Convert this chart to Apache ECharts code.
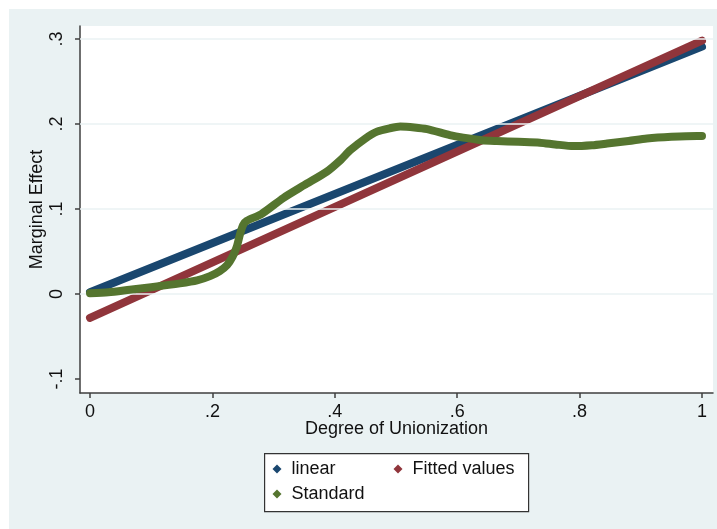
<!DOCTYPE html>
<html>
<head>
<meta charset="utf-8">
<script src="https://cdn.jsdelivr.net/npm/echarts@6/dist/echarts.min.js"></script>
<style>
  html, body { margin: 0; padding: 0; background: #ffffff; }
  #chart { width: 717px; height: 529px; }
</style>
</head>
<body>
<div id="chart"></div>
<script>
// Tick labels
const xTicks = [0, 0.2, 0.4, 0.6, 0.8, 1];
const xTickText = ['0', '.2', '.4', '.6', '.8', '1'];
const yTicks = [-0.1, 0, 0.1, 0.2, 0.3];
const yTickText = ['-.1', '0', '.1', '.2', '.3'];
const yGrid = [0, 0.1, 0.2, 0.3];

// Marginal effect of unionization, linear specification
const linearX = [0, 1];
const linearY = [0.002, 0.291];

// Linear fit of the standard estimate
const fittedX = [0, 1];
const fittedY = [-0.028, 0.298];

// Standard (flexible) estimate
const standardX = [0, 0.03, 0.065, 0.1, 0.147, 0.175, 0.196, 0.212, 0.224, 0.233, 0.24, 0.245,
  0.25, 0.256, 0.28, 0.316, 0.35, 0.387, 0.41, 0.425, 0.45, 0.469, 0.49, 0.507, 0.53, 0.551,
  0.588, 0.61, 0.64, 0.665, 0.7, 0.735, 0.76, 0.79, 0.82, 0.845, 0.88, 0.91, 0.95, 0.992, 1.0];
const standardY = [0.001, 0.002, 0.005, 0.008, 0.0125, 0.016, 0.021, 0.027, 0.034, 0.044, 0.056, 0.07,
  0.081, 0.086, 0.094, 0.113, 0.128, 0.144, 0.158, 0.169, 0.183, 0.191, 0.195, 0.197, 0.196, 0.194,
  0.187, 0.184, 0.181, 0.18, 0.179, 0.178, 0.176, 0.174, 0.175, 0.177, 0.18, 0.183, 0.185, 0.186, 0.186];

const seriesNames = ['linear', 'Fitted values', 'Standard'];
const seriesColors = ['#1a476f', '#90353b', '#55752f'];

const pairs = (xs, ys) => xs.map((x, i) => [x, ys[i]]);

const FONT = 'Liberation Sans, Arial, sans-serif';
const TEXT = '#111111';
const AXIS = '#3f3f3f';
const REGION = '#eaf2f3';

const chart = echarts.init(document.getElementById('chart'), null, { renderer: 'canvas' });

function legendItem(name, left, top) {
  return {
    data: [name],
    left: left,
    top: top,
    orient: 'horizontal',
    icon: 'diamond',
    itemWidth: 9,
    itemHeight: 9,
    padding: 0,
    selectedMode: false,
    textStyle: { fontFamily: FONT, fontSize: 18, color: TEXT, padding: [0, 0, 0, 5] }
  };
}

function lineSeries(idx, xs, ys) {
  return {
    name: seriesNames[idx],
    type: 'line',
    data: pairs(xs, ys),
    showSymbol: false,
    symbol: 'diamond',
    smooth: idx === 2 ? 0.25 : false,
    color: seriesColors[idx],
    lineStyle: { width: 8, color: seriesColors[idx], cap: 'round', join: 'round' },
    itemStyle: { color: seriesColors[idx] },
    z: 3 + idx,
    silent: true,
    animation: false
  };
}

const option = {
  backgroundColor: '#ffffff',
  animation: false,
  graphic: [
    { type: 'rect', left: 9, top: 9, shape: { width: 708, height: 520 }, style: { fill: REGION }, z: -10 },
    { type: 'rect', left: 264, top: 453, shape: { width: 264, height: 58 },
      style: { fill: '#ffffff', stroke: '#333333', lineWidth: 1.2 }, z: -5 }
  ],
  grid: {
    left: 80, top: 26, right: 4, bottom: 136,
    show: true, backgroundColor: '#ffffff', borderWidth: 0,
    containLabel: false
  },
  legend: [
    legendItem('linear', 272.5, 460),
    legendItem('Fitted values', 393.5, 460),
    legendItem('Standard', 272.5, 485)
  ],
  xAxis: {
    type: 'value',
    min: -10 / 612,
    max: 623 / 612,
    name: 'Degree of Unionization',
    nameLocation: 'middle',
    nameGap: 27,
    nameMoveOverlap: false,
    nameTextStyle: { fontFamily: FONT, fontSize: 18, color: TEXT },
    axisLine: { show: true, onZero: false, lineStyle: { color: AXIS, width: 1.5 } },
    axisTick: { show: true, length: 5, inside: false, customValues: xTicks, lineStyle: { color: AXIS, width: 1.5 } },
    axisLabel: {
      customValues: xTicks,
      margin: 10,
      fontFamily: FONT, fontSize: 18, color: TEXT,
      formatter: v => {
        const i = xTicks.findIndex(t => Math.abs(t - v) < 1e-9);
        return i >= 0 ? xTickText[i] : '';
      }
    },
    splitLine: { show: false }
  },
  yAxis: {
    type: 'value',
    min: (294 - 393) / 850,
    max: (294 - 26) / 850,
    name: 'Marginal Effect',
    nameLocation: 'middle',
    nameGap: 34,
    nameMoveOverlap: false,
    nameRotate: 90,
    nameTextStyle: { fontFamily: FONT, fontSize: 18, color: TEXT },
    axisLine: { show: true, onZero: false, lineStyle: { color: AXIS, width: 1.5 } },
    axisTick: { show: true, length: 5, inside: false, customValues: yTicks, lineStyle: { color: AXIS, width: 1.5 } },
    axisLabel: {
      customValues: yTicks,
      rotate: 90,
      margin: 14,
      fontFamily: FONT, fontSize: 18, color: TEXT,
      formatter: v => {
        const i = yTicks.findIndex(t => Math.abs(t - v) < 1e-9);
        return i >= 0 ? yTickText[i] : '';
      }
    },
    splitLine: { show: false }
  },
  series: [
    {
      name: 'gridlines',
      type: 'line',
      data: [],
      silent: true,
      z: 1,
      markLine: {
        silent: true,
        symbol: ['none', 'none'],
        label: { show: false },
        lineStyle: { color: REGION, width: 1.5, type: 'solid' },
        data: yGrid.map(v => ({ yAxis: v }))
      }
    },
    lineSeries(0, linearX, linearY),
    lineSeries(1, fittedX, fittedY),
    lineSeries(2, standardX, standardY)
  ]
};

chart.setOption(option);
</script>
</body>
</html>
